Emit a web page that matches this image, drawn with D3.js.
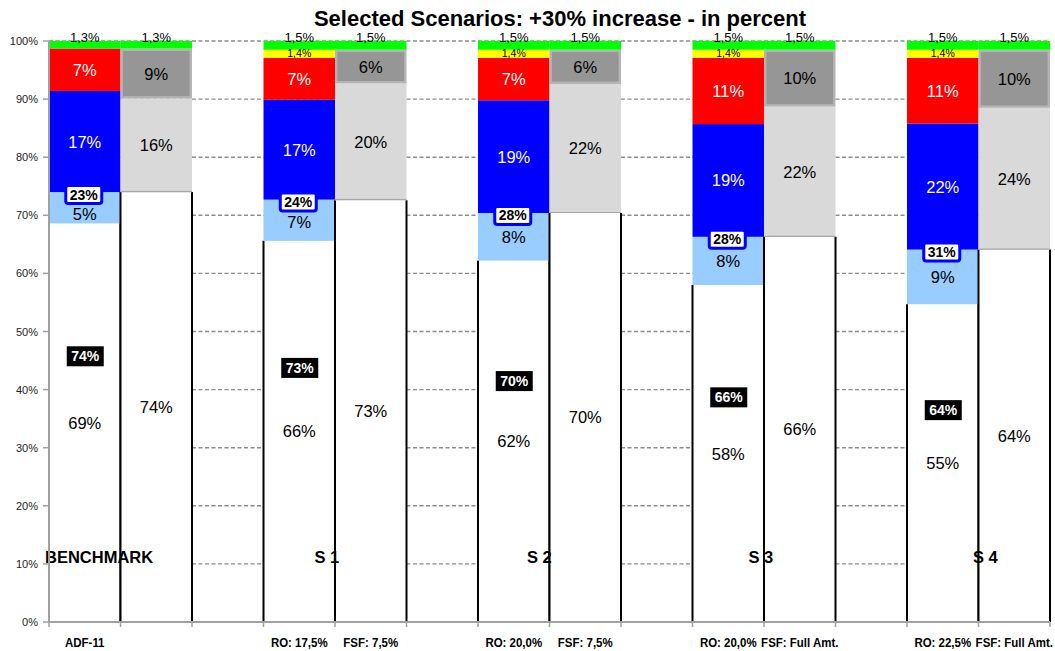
<!DOCTYPE html>
<html>
<head>
<meta charset="utf-8">
<script src="https://cdn.jsdelivr.net/npm/d3@7"></script>
<style>
  html, body { margin: 0; padding: 0; background: #fff; }
  svg { display: block; font-family: "Liberation Sans", Arial, sans-serif; }
</style>
</head>
<body>
<svg id="chart" width="1055" height="651"></svg>
<script>
// ---- data -------------------------------------------------------------
const groups = ["BENCHMARK", "S 1", "S 2", "S 3", "S 4"];
const roLabels  = ["ADF-11", "RO: 17,5%", "RO: 20,0%", "RO: 20,0%", "RO: 22,5%"];
const fsfLabels = ["", "FSF: 7,5%", "FSF: 7,5%", "FSF: Full Amt.", "FSF: Full Amt."];

// RO column (percent of total)
const roBase   = [68.6, 65.6, 62.2, 58.0, 54.7];
const roLight  = [5.4, 7.1, 8.2, 8.3, 9.4];
const roBlue   = [17.4, 17.2, 19.4, 19.4, 21.7];
const roRed    = [7.3, 7.2, 7.3, 11.4, 11.3];
const roYellow = [0, 1.4, 1.4, 1.4, 1.4];

// FSF column (percent of total)
const fsfBase  = [74.0, 72.6, 70.4, 66.3, 64.1];
const fsfLight = [16.1, 20.1, 22.2, 22.4, 24.4];
const fsfDark  = [8.6, 5.8, 5.9, 9.8, 10.0];

// top share common to both columns
const topGreen = [1.3, 1.5, 1.5, 1.5, 1.5];

const yTicks = [0, 10, 20, 30, 40, 50, 60, 70, 80, 90, 100];

// ---- layout -----------------------------------------------------------
const svg = d3.select("#chart");
const plot = { left: 49, right: 1050, top: 41, bottom: 622 };

// 14 category slots: RO, FSF, spacer for each scenario (no spacer after last)
const slots = [];
groups.forEach((g, i) => {
  slots.push({ id: `${i}-ro`, gi: i, kind: "ro", label: roLabels[i] });
  slots.push({ id: `${i}-fsf`, gi: i, kind: "fsf", label: fsfLabels[i] });
  if (i < groups.length - 1) slots.push({ id: `${i}-gap`, gi: i, kind: "gap", label: "" });
});

const x = d3.scaleBand().domain(slots.map(s => s.id)).range([plot.left, plot.right]).padding(0);
const y = d3.scaleLinear().domain([0, 100]).range([plot.bottom, plot.top]);

const fmtPct = v => `${Math.round(v)}%`;
const fmtDec = v => `${v.toFixed(1).replace(".", ",")}%`;

// ---- tables for the stacks ---------------------------------------------
const roTable = groups.map((g, i) => ({
  id: `${i}-ro`, base: roBase[i], light: roLight[i], blue: roBlue[i],
  red: roRed[i], yellow: roYellow[i], green: topGreen[i]
}));
const fsfTable = groups.map((g, i) => ({
  id: `${i}-fsf`, base: fsfBase[i], lgrey: fsfLight[i], dgrey: fsfDark[i], green: topGreen[i]
}));

const roKeys = ["base", "light", "blue", "red", "yellow", "green"];
const fsfKeys = ["base", "lgrey", "dgrey", "green"];

const fill = {
  base: "#ffffff", light: "#99ccff", blue: "#0000ff", red: "#ff0000",
  yellow: "#ffff00", green: "#00ff00", lgrey: "#d9d9d9", dgrey: "#969696"
};
const textCol = {
  base: "#000", light: "#000", blue: "#fff", red: "#fff", lgrey: "#000", dgrey: "#000"
};

const roStack = d3.stack().keys(roKeys)(roTable);
const fsfStack = d3.stack().keys(fsfKeys)(fsfTable);

// ---- gridlines ----------------------------------------------------------
svg.append("g")
  .selectAll("line")
  .data(yTicks.filter(t => t > 0))
  .join("line")
  .attr("x1", plot.left).attr("x2", plot.right)
  .attr("y1", d => y(d)).attr("y2", d => y(d))
  .attr("stroke", "#8c8c8c").attr("stroke-width", 1.4)
  .attr("stroke-dasharray", "4,2.5");

// ---- bars ---------------------------------------------------------------
function drawStack(stack, cls) {
  const g = svg.append("g").attr("class", cls);
  stack.forEach(layer => {
    const key = layer.key;
    layer.forEach(seg => {
      const v = seg[1] - seg[0];
      if (v <= 0) return;
      const x0 = x(seg.data.id), bw = x.bandwidth();
      const y0 = y(seg[1]), h = y(seg[0]) - y(seg[1]);
      if (key === "dgrey") {
        g.append("rect")
          .attr("x", x0 + 1.2).attr("y", y0 + 1.2)
          .attr("width", bw - 2.4).attr("height", h - 2.4)
          .attr("fill", fill[key]).attr("stroke", "#b4b4b4").attr("stroke-width", 2.4);
      } else if (key === "lgrey") {
        g.append("rect")
          .attr("x", x0).attr("y", y0).attr("width", bw).attr("height", h)
          .attr("fill", fill[key]);
        g.append("line")
          .attr("x1", x0).attr("x2", x0 + bw)
          .attr("y1", y(seg[0]) - 0.5).attr("y2", y(seg[0]) - 0.5)
          .attr("stroke", "#a6a6a6").attr("stroke-width", 1.2);
      } else {
        g.append("rect")
          .attr("x", x0).attr("y", y0).attr("width", bw).attr("height", h)
          .attr("fill", fill[key]);
      }
      if (key === "base") {
        // dark side edges of the base column
        [x0, x0 + bw].forEach(xx => {
          g.append("line")
            .attr("x1", xx).attr("x2", xx)
            .attr("y1", y0).attr("y2", y(0))
            .attr("stroke", "#000").attr("stroke-width", 2);
        });
      }
    });
  });
}
drawStack(roStack, "ro");
drawStack(fsfStack, "fsf");

// ---- segment labels ------------------------------------------------------
function labelStack(stack) {
  const g = svg.append("g");
  stack.forEach(layer => {
    const key = layer.key;
    layer.forEach(seg => {
      const v = seg[1] - seg[0];
      if (v <= 0) return;
      const cx = x(seg.data.id) + x.bandwidth() / 2;
      if (key === "green") {
        g.append("text")
          .attr("x", cx).attr("y", y(seg[1]) + 0.5)
          .attr("text-anchor", "middle")
          .attr("font-size", 13).attr("fill", "#000")
          .text(fmtDec(v));
      } else if (key === "yellow") {
        g.append("text")
          .attr("x", cx).attr("y", y(seg[0]) - 0.5)
          .attr("text-anchor", "middle")
          .attr("font-size", 10.5).attr("fill", "#000")
          .text(fmtDec(v));
      } else {
        let cy = y((seg[0] + seg[1]) / 2);
        // keep the light-blue label clear of the box sitting on its top edge
        if (key === "light") cy = Math.max(cy, y(seg[1]) + 22);
        g.append("text")
          .attr("x", cx).attr("y", cy)
          .attr("text-anchor", "middle").attr("dominant-baseline", "central")
          .attr("font-size", 16.5).attr("fill", textCol[key])
          .text(fmtPct(v));
      }
    });
  });
}
labelStack(roStack);
labelStack(fsfStack);

// ---- summary boxes on the RO column --------------------------------------
const boxes = svg.append("g").attr("font-weight", "bold").attr("font-size", 14);
groups.forEach((gname, i) => {
  const cx = x(`${i}-ro`) + x.bandwidth() / 2;

  // light blue + blue share, at their common boundary
  const midShare = roLight[i] + roBlue[i];
  const yb = y(roBase[i] + roLight[i]) + 2.5;
  boxes.append("rect")
    .attr("x", cx - 19).attr("y", yb - 9).attr("width", 36).attr("height", 18)
    .attr("rx", 2.5).attr("fill", "#fff").attr("stroke", "#0000ff").attr("stroke-width", 3);
  boxes.append("text")
    .attr("x", cx - 1).attr("y", yb).attr("dominant-baseline", "central")
    .attr("text-anchor", "middle").attr("fill", "#000")
    .text(fmtPct(midShare));

  // white + light blue share, two thirds up the base segment
  const lowShare = roBase[i] + roLight[i];
  const yk = y(roBase[i] * 2 / 3);
  boxes.append("rect")
    .attr("x", cx - 18).attr("y", yk - 10).attr("width", 37).attr("height", 20)
    .attr("fill", "#000");
  boxes.append("text")
    .attr("x", cx + 0.5).attr("y", yk).attr("dominant-baseline", "central")
    .attr("text-anchor", "middle").attr("fill", "#fff")
    .text(fmtPct(lowShare));
});

// ---- scenario captions ----------------------------------------------------
const captionShift = [-4, 51, 49, 56, 66]; // from the left edge of each RO column
svg.append("g")
  .selectAll("text")
  .data(groups)
  .join("text")
  .attr("x", (d, i) => x(`${i}-ro`) + captionShift[i])
  .attr("y", 563)
  .attr("font-size", 16.5).attr("font-weight", "bold").attr("fill", "#000")
  .text(d => d);

// ---- axes -----------------------------------------------------------------
const axisCol = "#a0a0a0";
const yAxis = svg.append("g");
yAxis.append("line")
  .attr("x1", plot.left).attr("x2", plot.left)
  .attr("y1", y(100)).attr("y2", y(0))
  .attr("stroke", axisCol).attr("stroke-width", 2);
yAxis.selectAll(".tk").data(yTicks).join("line")
  .attr("x1", plot.left - 6).attr("x2", plot.left)
  .attr("y1", d => y(d)).attr("y2", d => y(d))
  .attr("stroke", axisCol).attr("stroke-width", 1.5);
yAxis.selectAll("text").data(yTicks).join("text")
  .attr("x", 38).attr("y", d => y(d)).attr("dominant-baseline", "central")
  .attr("text-anchor", "end").attr("font-size", 11).attr("fill", "#222")
  .text(d => `${d}%`);

const xAxis = svg.append("g");
xAxis.append("line")
  .attr("x1", plot.left).attr("x2", plot.right)
  .attr("y1", y(0)).attr("y2", y(0))
  .attr("stroke", axisCol).attr("stroke-width", 2);
const bounds = slots.map(s => x(s.id)).concat([plot.right]);
xAxis.selectAll(".tk").data(bounds).join("line")
  .attr("x1", d => d).attr("x2", d => d)
  .attr("y1", y(0)).attr("y2", y(0) + 5)
  .attr("stroke", axisCol).attr("stroke-width", 1.5);
xAxis.selectAll("text").data(slots.filter(s => s.label)).join("text")
  .attr("transform", s => `translate(${x(s.id) + x.bandwidth() / 2},647) scale(0.85,1)`)
  .attr("text-anchor", "middle")
  .attr("font-size", 13.5).attr("font-weight", "bold").attr("fill", "#000")
  .text(s => s.label);

// ---- title ----------------------------------------------------------------
svg.append("text")
  .attr("x", 560).attr("y", 26)
  .attr("text-anchor", "middle")
  .attr("font-size", 22).attr("font-weight", "bold").attr("fill", "#000")
  .text("Selected Scenarios: +30% increase - in percent");
</script>
</body>
</html>
